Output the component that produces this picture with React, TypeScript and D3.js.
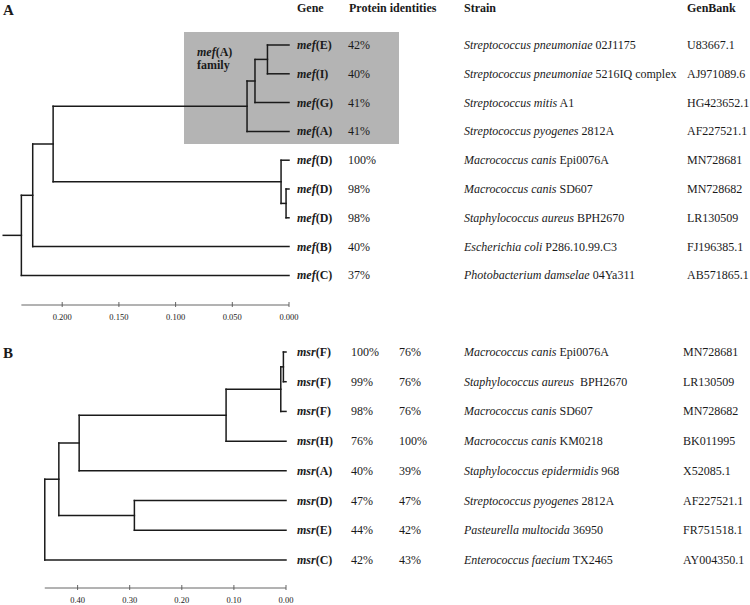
import React from "react";
import * as d3 from "d3";

// ---------- Panel A data ----------
const genesA = ["E", "I", "G", "A", "D", "D", "D", "B", "C"];
const identitiesA = ["42%", "40%", "41%", "41%", "100%", "98%", "98%", "40%", "37%"];
const speciesA = [
  "Streptococcus pneumoniae",
  "Streptococcus pneumoniae",
  "Streptococcus mitis",
  "Streptococcus pyogenes",
  "Macrococcus canis",
  "Macrococcus canis",
  "Staphylococcus aureus",
  "Escherichia coli",
  "Photobacterium damselae",
];
const strainsA = ["02J1175", "5216IQ complex", "A1", "2812A", "Epi0076A", "SD607", "BPH2670", "P286.10.99.C3", "04Ya311"];
const genbankA = ["U83667.1", "AJ971089.6", "HG423652.1", "AF227521.1", "MN728681", "MN728682", "LR130509", "FJ196385.1", "AB571865.1"];
// internal nodes: [child1, child2, height]; node ids continue after leaves
const mergesA: [number, number, number][] = [
  [0, 1, 0.019],
  [9, 2, 0.03],
  [10, 3, 0.037],
  [5, 6, 0.0026],
  [4, 12, 0.007],
  [11, 13, 0.208],
  [14, 7, 0.226],
  [15, 8, 0.236],
];
const rootStubA = 0.252;
const ticksA = [0, 0.05, 0.1, 0.15, 0.2];

// ---------- Panel B data ----------
const genesB = ["F", "F", "F", "H", "A", "D", "E", "C"];
const identities1B = ["100%", "99%", "98%", "76%", "40%", "47%", "44%", "42%"];
const identities2B = ["76%", "76%", "76%", "100%", "39%", "47%", "42%", "43%"];
const speciesB = [
  "Macrococcus canis",
  "Staphylococcus aureus",
  "Macrococcus canis",
  "Macrococcus canis",
  "Staphylococcus epidermidis",
  "Streptococcus pyogenes",
  "Pasteurella multocida",
  "Enterococcus faecium",
];
const strainsB = ["Epi0076A", "\u00a0BPH2670", "SD607", "KM0218", "968", "2812A", "36950", "TX2465"];
const genbankB = ["MN728681", "LR130509", "MN728682", "BK011995", "X52085.1", "AF227521.1", "FR751518.1", "AY004350.1"];
const mergesB: [number, number, number][] = [
  [0, 1, 0.005],
  [8, 2, 0.01],
  [9, 3, 0.115],
  [10, 4, 0.397],
  [5, 6, 0.291],
  [11, 12, 0.436],
  [13, 7, 0.463],
];
const ticksB = [0, 0.1, 0.2, 0.3, 0.4];

const FONT = "'Liberation Serif', 'Times New Roman', serif";
const INK = "#1a1a1a";

type Seg = { x1: number; y1: number; x2: number; y2: number };

function layoutTree(
  nLeaves: number,
  merges: [number, number, number][],
  x: (v: number) => number,
  y: (i: number) => number
) {
  const ys: number[] = [];
  const hs: number[] = [];
  for (let i = 0; i < nLeaves; i++) {
    ys.push(y(i));
    hs.push(0);
  }
  const segs: Seg[] = [];
  merges.forEach(([a, b, h]) => {
    const ny = (ys[a] + ys[b]) / 2;
    const nx = x(h);
    segs.push({ x1: nx, y1: ys[a], x2: nx, y2: ys[b] });
    segs.push({ x1: nx, y1: ys[a], x2: x(hs[a]), y2: ys[a] });
    segs.push({ x1: nx, y1: ys[b], x2: x(hs[b]), y2: ys[b] });
    ys.push(ny);
    hs.push(h);
  });
  return { segs, rootY: ys[ys.length - 1], rootH: hs[hs.length - 1] };
}

function GeneLabel({ x, y, prefix, letter }: { x: number; y: number; prefix: string; letter: string }) {
  return (
    <text x={x} y={y} fontFamily={FONT} fontSize={12} fontWeight="bold" fill={INK}>
      <tspan fontStyle="italic">{prefix}</tspan>
      <tspan>({letter})</tspan>
    </text>
  );
}

function Axis({ x, y, from, ticks, fmt }: { x: d3.ScaleLinear<number, number>; y: number; from: number; ticks: number[]; fmt: string }) {
  const f = d3.format(fmt);
  return (
    <g>
      <line x1={x(from)} x2={x(0)} y1={y} y2={y} stroke="#555" strokeWidth={0.9} />
      {ticks.map((t) => (
        <g key={t}>
          <line x1={x(t)} x2={x(t)} y1={y - 3} y2={y + 2} stroke="#555" strokeWidth={0.9} />
          <text x={x(t)} y={y + 15} textAnchor="middle" fontFamily={FONT} fontSize={8.5} fill={INK}>
            {f(t)}
          </text>
        </g>
      ))}
    </g>
  );
}

export default function App() {
  // Panel A scales
  const xA = d3.scaleLinear().domain([0, 0.2]).range([289, 62.2]);
  const yA = d3.scaleLinear().domain([0, genesA.length - 1]).range([45, 275.4]);
  const treeA = layoutTree(genesA.length, mergesA, xA, yA);

  // Panel B scales
  const xB = d3.scaleLinear().domain([0, 0.4]).range([286, 77.6]);
  const yB = d3.scaleLinear().domain([0, genesB.length - 1]).range([352, 560]);
  const treeB = layoutTree(genesB.length, mergesB, xB, yB);

  return (
    <svg width={750} height={605} style={{ position: "absolute", left: 0, top: 0, background: "#fff" }}>
      <rect width={750} height={605} fill="#fff" />
      {/* Panel labels */}
      <text x={3} y={15} fontFamily={FONT} fontSize={15} fontWeight="bold" fill={INK}>A</text>
      <text x={3} y={358} fontFamily={FONT} fontSize={15} fontWeight="bold" fill={INK}>B</text>

      {/* Headers */}
      {[
        ["Gene", 297],
        ["Protein identities", 349],
        ["Strain", 464],
        ["GenBank", 687],
      ].map(([t, x]) => (
        <text key={t as string} x={x as number} y={12} fontFamily={FONT} fontSize={12} fontWeight="bold" fill={INK}>
          {t}
        </text>
      ))}

      {/* mef(A) family box */}
      <rect x={184} y={32} width={215} height={112} fill="#b4b4b4" />
      <text x={197} y={56} fontFamily={FONT} fontSize={12} fontWeight="bold" fill={INK}>
        <tspan fontStyle="italic">mef</tspan>
        <tspan>(A)</tspan>
      </text>
      <text x={197} y={69} fontFamily={FONT} fontSize={12} fontWeight="bold" fill={INK}>family</text>

      {/* Tree A */}
      <g stroke={INK} strokeWidth={1.5} fill="none" strokeLinecap="square">
        {treeA.segs.map((s, i) => (
          <line key={i} x1={s.x1} y1={s.y1} x2={s.x2} y2={s.y2} />
        ))}
        <line x1={xA(rootStubA)} x2={xA(treeA.rootH)} y1={treeA.rootY} y2={treeA.rootY} />
      </g>
      <Axis x={xA} y={305} from={0.236} ticks={ticksA} fmt=".3f" />

      {/* Rows A */}
      {genesA.map((g, i) => {
        const y = yA(i) + 4;
        return (
          <g key={i}>
            <GeneLabel x={297} y={y} prefix="mef" letter={g} />
            <text x={348} y={y} fontFamily={FONT} fontSize={12} fill={INK}>{identitiesA[i]}</text>
            <text x={464} y={y} fontFamily={FONT} fontSize={12} fill={INK}>
              <tspan fontStyle="italic">{speciesA[i]}</tspan>
              <tspan> {strainsA[i]}</tspan>
            </text>
            <text x={687} y={y} fontFamily={FONT} fontSize={12} fill={INK}>{genbankA[i]}</text>
          </g>
        );
      })}

      {/* Tree B */}
      <g stroke={INK} strokeWidth={1.5} fill="none" strokeLinecap="square">
        {treeB.segs.map((s, i) => (
          <line key={i} x1={s.x1} y1={s.y1} x2={s.x2} y2={s.y2} />
        ))}
      </g>
      <Axis x={xB} y={588} from={0.463} ticks={ticksB} fmt=".2f" />

      {/* Rows B */}
      {genesB.map((g, i) => {
        const y = yB(i) + 4;
        return (
          <g key={i}>
            <GeneLabel x={297} y={y} prefix="msr" letter={g} />
            <text x={351} y={y} fontFamily={FONT} fontSize={12} fill={INK}>{identities1B[i]}</text>
            <text x={399} y={y} fontFamily={FONT} fontSize={12} fill={INK}>{identities2B[i]}</text>
            <text x={464} y={y} fontFamily={FONT} fontSize={12} fill={INK}>
              <tspan fontStyle="italic">{speciesB[i]}</tspan>
              <tspan> {strainsB[i]}</tspan>
            </text>
            <text x={683} y={y} fontFamily={FONT} fontSize={12} fill={INK}>{genbankB[i]}</text>
          </g>
        );
      })}
    </svg>
  );
}
